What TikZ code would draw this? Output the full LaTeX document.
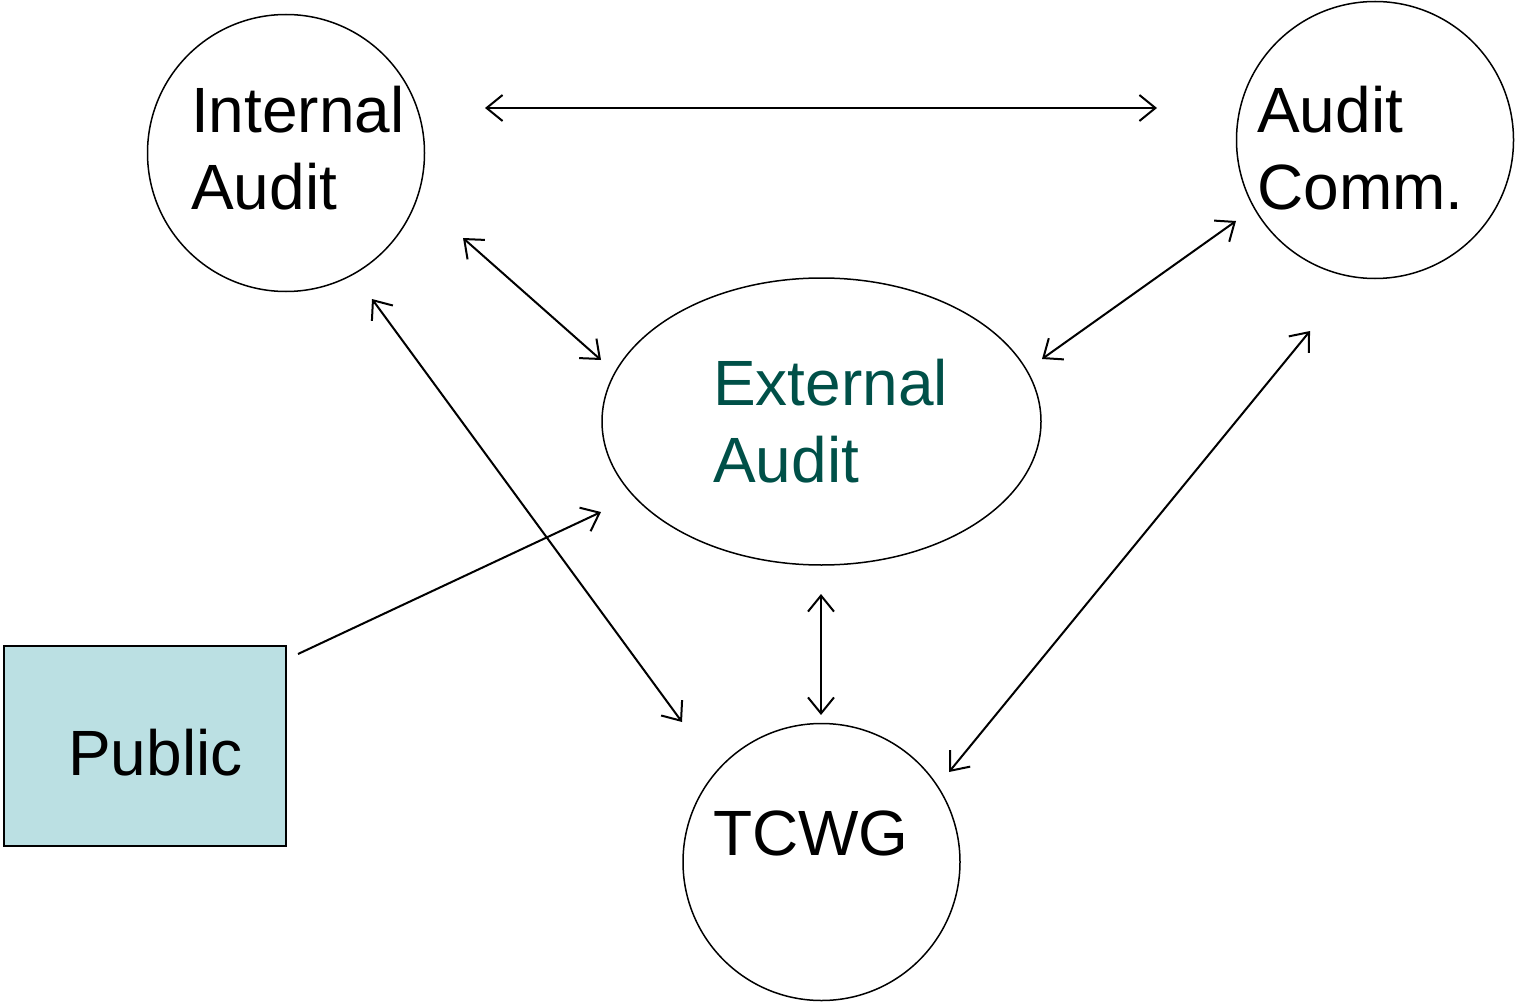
\documentclass[tikz,border=0pt]{standalone}
\usepackage{fontspec}
\setmainfont{Liberation Sans}
\usetikzlibrary{arrows.meta,shapes.geometric}
\definecolor{extgreen}{RGB}{0,80,72}
\definecolor{publicfill}{RGB}{187,224,227}
\tikzset{
  party/.style={draw, line width=1.5pt, circle, minimum size=277pt, inner sep=0pt},
  label/.style={anchor=base west, inner sep=0pt, font=\fontsize{64}{77}\selectfont},
  link/.style={line width=2pt, {Straight Barb[length=16pt,width=26pt]}-{Straight Barb[length=16pt,width=26pt]}},
  oneway/.style={line width=2pt, -{Straight Barb[length=16pt,width=26pt]}}
}
\begin{document}
\begin{tikzpicture}[x=1pt,y=-1pt]
\useasboundingbox (0,0) rectangle (1515,1003);

% participants
\node[party] (ia) at (286,153) {};
\node[party] (ac) at (1375,140) {};
\node[party] (tc) at (821.5,862) {};
\node[draw, line width=1.5pt, ellipse, minimum width=439pt, minimum height=287pt, inner sep=0pt] (ea) at (821.5,421.5) {};
\node[draw, line width=1.5pt, fill=publicfill, minimum width=282pt, minimum height=200pt, inner sep=0pt] (pb) at (145,746) {};

% labels
\node[label] (iat) at (191,133) {Internal};
\node[label] (iab) at (191,210) {Audit};
\node[label] (act) at (1257,133) {Audit};
\node[label] (acb) at (1257,210) {Comm.};
\node[label, text=extgreen] (eat) at (713,405) {External};
\node[label, text=extgreen] (eab) at (713,482) {Audit};
\node[label] (tct) at (713,855) {TCWG};
\node[label] (pbt) at (68,775) {Public};

% connector ends
\coordinate (ia1) at (485,108);   \coordinate (ac1) at (1157,108);
\coordinate (ia2) at (463,238);   \coordinate (ea2) at (601,360);
\coordinate (ac3) at (1236,221);  \coordinate (ea3) at (1042,359);
\coordinate (ia4) at (372,299);   \coordinate (tc4) at (682,722);
\coordinate (ac5) at (1310,331);  \coordinate (tc5) at (949,772);
\coordinate (ea6) at (821,594);   \coordinate (tc6) at (821,715);
\coordinate (pb7) at (298,654);   \coordinate (ea7) at (601,512);

% connectors
\draw[link] (ia1) -- (ac1);
\draw[link] (ia2) -- (ea2);
\draw[link] (ac3) -- (ea3);
\draw[link] (ia4) -- (tc4);
\draw[link] (ac5) -- (tc5);
\draw[link] (ea6) -- (tc6);
\draw[oneway] (pb7) -- (ea7);
\end{tikzpicture}
\end{document}
